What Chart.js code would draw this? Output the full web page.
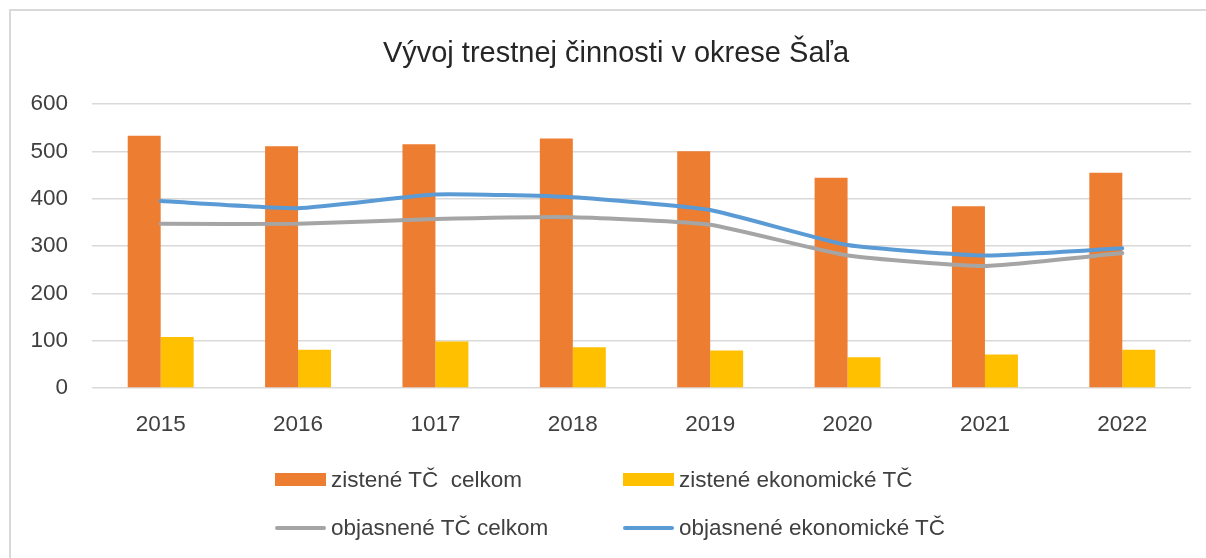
<!DOCTYPE html>
<html>
<head>
<meta charset="utf-8">
<script src="https://cdn.jsdelivr.net/npm/chart.js@4.4.1/dist/chart.umd.min.js"></script>
<style>
  html, body { margin: 0; padding: 0; background: #fff; overflow: hidden; width: 1206px; height: 558px; }
  #frame { position: absolute; left: 9px; top: 9px; width: 1300px; height: 700px; border: 2px solid #d9d9d9; box-sizing: border-box; }
  #wrap { position: absolute; left: 0; top: 0; width: 1232px; height: 558px; }
  #legend { position: absolute; left: 0; top: 0; width: 1206px; height: 558px; pointer-events: none; font-family: "Liberation Sans", Arial, sans-serif; font-size: 22.5px; color: #404040; }
  .item { position: absolute; height: 26px; line-height: 26px; white-space: pre; }
  .sym { position: absolute; }
</style>
</head>
<body>
<div id="frame"></div>
<div id="wrap"><canvas id="c" width="1232" height="558" style="width:1232px;height:558px"></canvas></div>
<div id="legend"></div>
<script>
const categories = ["2015", "2016", "1017", "2018", "2019", "2020", "2021", "2022"];
const zisteneCelkom = [533, 511, 515, 527, 500, 444, 384, 455];
const zisteneEkonomicke = [108, 81, 98, 86, 79, 65, 71, 81];
const objasneneCelkom = [347, 347, 357, 361, 345, 280, 258, 285];
const objasneneEkonomicke = [395, 380, 409, 403, 376, 302, 280, 295];
const yTicks = [0, 100, 200, 300, 400, 500, 600];
const seriesNames = ["zistené TČ  celkom", "zistené ekonomické TČ", "objasnené TČ celkom", "objasnené ekonomické TČ"];
const titleText = "Vývoj trestnej činnosti v okrese Šaľa";

const colors = ["#ED7D31", "#FFC000", "#A5A5A5", "#5B9BD5"];
const FONT = '"Liberation Sans", Arial, sans-serif';

// Title drawn centred on the whole chart frame (frame spans beyond the visible crop)
const frameTitle = {
  id: "frameTitle",
  afterDraw(chart) {
    const ctx = chart.ctx;
    ctx.save();
    ctx.font = "29px " + FONT;
    ctx.fillStyle = "#262626";
    ctx.textAlign = "center";
    ctx.textBaseline = "alphabetic";
    ctx.fillText(titleText, chart.width / 2, 62);
    ctx.restore();
  }
};

const chart = new Chart(document.getElementById("c"), {
  data: {
    labels: categories,
    datasets: [
      { type: "bar", label: seriesNames[0], data: zisteneCelkom, backgroundColor: colors[0], order: 2, categoryPercentage: 0.48, barPercentage: 1.0 },
      { type: "bar", label: seriesNames[1], data: zisteneEkonomicke, backgroundColor: colors[1], order: 2, categoryPercentage: 0.48, barPercentage: 1.0 },
      { type: "line", label: seriesNames[2], data: objasneneCelkom, borderColor: colors[2], backgroundColor: colors[2], borderWidth: 4, pointRadius: 0, tension: 0.15, order: 1, borderCapStyle: "round" },
      { type: "line", label: seriesNames[3], data: objasneneEkonomicke, borderColor: colors[3], backgroundColor: colors[3], borderWidth: 4, pointRadius: 0, tension: 0.15, order: 0, borderCapStyle: "round" }
    ]
  },
  plugins: [frameTitle],
  options: {
    responsive: false,
    animation: false,
    devicePixelRatio: 1,
    layout: { padding: { left: 0, right: 41, top: 104, bottom: 0 } },
    plugins: {
      legend: { display: false },
      tooltip: { enabled: false },
      title: { display: false }
    },
    scales: {
      x: {
        grid: { display: false, drawTicks: false },
        border: { display: false },
        ticks: { color: "#404040", font: { family: FONT, size: 22.5 }, padding: 23, maxRotation: 0 },
        afterFit: (s) => { s.height = 170; }
      },
      y: {
        min: 0, max: 600,
        afterBuildTicks: (s) => { s.ticks = yTicks.map(v => ({ value: v })); },
        grid: { color: "#d9d9d9", lineWidth: 1.5, drawTicks: false },
        border: { display: false },
        ticks: { color: "#404040", font: { family: FONT, size: 22.5 }, padding: 24 },
        afterFit: (s) => { s.width = 92; }
      }
    }
  }
});

// HTML legend built from series names/colors
const leg = document.getElementById("legend");
const cols = [275, 623];
const rows = [{ top: 467, symTop: 473, symH: 13 }, { top: 515, symTop: 525.5, symH: 4 }];
seriesNames.forEach((name, i) => {
  const r = rows[Math.floor(i / 2)], cx = cols[i % 2];
  const sym = document.createElement("div");
  sym.className = "sym";
  sym.style.left = cx + "px";
  sym.style.top = r.symTop + "px";
  sym.style.width = "51px";
  sym.style.height = r.symH + "px";
  sym.style.background = colors[i];
  if (i >= 2) sym.style.borderRadius = "2px";
  leg.appendChild(sym);
  const t = document.createElement("div");
  t.className = "item";
  t.style.left = (cx + 56) + "px";
  t.style.top = r.top + "px";
  t.textContent = name;
  leg.appendChild(t);
});
</script>
</body>
</html>
